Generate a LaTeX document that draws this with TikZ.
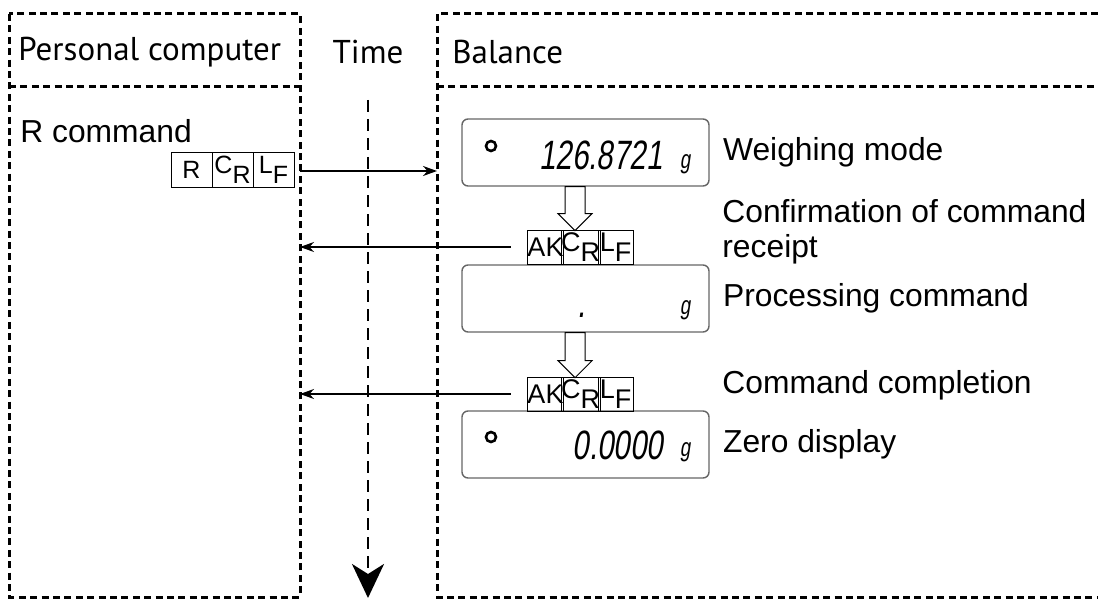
\documentclass[tikz,border=0pt]{standalone}
\usepackage{fontspec}
\setmainfont{Liberation Sans}
\newfontfamily\headfont{PT Sans}
\newfontfamily\segfont[FakeSlant=0.15,FakeStretch=0.72]{Liberation Sans}
\usetikzlibrary{arrows.meta,positioning}

\begin{document}
\begin{tikzpicture}
    [x=0.5pt, y=-0.5pt,
    frame/.style={line width=1.5pt, dash pattern=on 3.5pt off 2.2pt},
    timeline/.style={line width=1.4pt, dash pattern=on 6pt off 3.5pt, -{Stealth[length=17pt, width=16pt, inset=5pt]}},
    msg/.style={line width=0.9pt, -{Stealth[length=7pt, width=5pt]}},
    cell/.style={draw, line width=0.5pt, inner sep=0pt, minimum height=17pt},
    display/.style={draw=black!60, line width=0.7pt, rounded corners=3pt, minimum width=123.5pt, minimum height=33.5pt, inner sep=0pt},
    hollow/.style={draw, line width=0.5pt, fill=white},
    lamp/.style={circle, draw, line width=1.3pt, minimum size=5pt, inner sep=0pt},
    seg/.style={font=\segfont\fontsize{20.5}{20.5}\selectfont, inner sep=0pt},
    unit/.style={font=\segfont\fontsize{13}{13}\selectfont, inner sep=0pt},
    lbl/.style={font=\fontsize{15.9}{17.5}\selectfont, inner sep=0pt, align=left},
    head/.style={font=\headfont\fontsize{16.5}{18}\selectfont, inner sep=0pt}]
        \useasboundingbox (0,0) rectangle (1098,599);

        %% Frames
        \draw[frame] (9,14) rectangle (300,597);
        \draw[frame] (9,87) -- (300,87);
        \draw[frame] (1098,14) -- (437,14) -- (437,597) -- (1098,597);
        \draw[frame] (437,87) -- (1098,87);
        \node[head, anchor=west] (PC) at (18,52) {Personal computer};
        \node[head] (T) at (368,52) {Time};
        \node[head, anchor=west] (B) at (452,52) {Balance};

        %% Time axis
        \coordinate (t0) at (368,100);
        \coordinate (t1) at (368,598);
        \draw[timeline] (t0) to (t1);

        %% Command from the computer
        \node[lbl, anchor=west] (Rc) at (20,131) {R command};
        \node[cell, minimum width=20.5pt, font=\fontsize{12.5}{12.5}\selectfont, node distance=20.5pt] (R1) at (191.5,170) {R};
        \node[cell, minimum width=20.5pt, font=\fontsize{12.5}{12.5}\selectfont, node distance=20.5pt, right of = R1] (R2) {C\raisebox{-5pt}{R}};
        \node[cell, minimum width=20.5pt, font=\fontsize{12.5}{12.5}\selectfont, node distance=20.5pt, right of = R2] (R3) {L\raisebox{-5pt}{F}};
        \coordinate (pc0) at (300,171);
        \coordinate (bal0) at (437,171);
        \draw[msg] (pc0) to (bal0);

        %% Balance displays
        \node[display] (D1) at (585.5,152.5) {};
        \node[lamp] (I1) at (491,146) {};
        \node[seg] (W1) at (601,155) {126.8721};
        \node[unit] (G1) at (685,164) {g};

        \node[display] (D2) at (585.5,298.5) {};
        \node[seg] (P2) at (582,315) {.};
        \node[unit] (G2) at (685,310) {g};

        \node[display] (D3) at (585.5,444.5) {};
        \node[lamp] (I3) at (491,437) {};
        \node[seg] (Z3) at (618,445) {0.0000};
        \node[unit] (G3) at (685,452) {g};

        \draw[hollow] ([xshift=-10.25pt]D1.south) -- ++(0,27) -- ++(-7,0) -- ++(17,17) -- ++(17,-17) -- ++(-7,0) -- ++(0,-27) -- cycle;
        \draw[hollow] ([xshift=-10.25pt]D2.south) -- ++(0,28) -- ++(-7,0) -- ++(17,17) -- ++(17,-17) -- ++(-7,0) -- ++(0,-28) -- cycle;

        %% Replies
        \node[cell, minimum width=17.5pt, font=\fontsize{13.5}{13.5}\selectfont, node distance=17.5pt] (A1) at (545.5,247) {AK};
        \node[cell, minimum width=17.5pt, font=\fontsize{13.5}{13.5}\selectfont, node distance=17.5pt, right of = A1] (A2) {C\raisebox{-5pt}{R}};
        \node[cell, minimum width=17.5pt, font=\fontsize{13.5}{13.5}\selectfont, node distance=17.5pt, right of = A2] (A3) {L\raisebox{-5pt}{F}};
        \coordinate (pc1) at (300,247);
        \draw[msg] ([xshift=-8pt]A1.west) to (pc1);

        \node[cell, minimum width=17.5pt, font=\fontsize{13.5}{13.5}\selectfont, node distance=17.5pt] (A4) at (545.5,394) {AK};
        \node[cell, minimum width=17.5pt, font=\fontsize{13.5}{13.5}\selectfont, node distance=17.5pt, right of = A4] (A5) {C\raisebox{-5pt}{R}};
        \node[cell, minimum width=17.5pt, font=\fontsize{13.5}{13.5}\selectfont, node distance=17.5pt, right of = A5] (A6) {L\raisebox{-5pt}{F}};
        \coordinate (pc2) at (300,394);
        \draw[msg] ([xshift=-8pt]A4.west) to (pc2);

        %% Labels
        \node[lbl, right=6.5pt of D1] (L1) {Weighing mode};
        \node[lbl, anchor=west] (L2) at (722,232) {Confirmation of command\\receipt};
        \node[lbl, right=6.5pt of D2] (L3) {Processing command};
        \node[lbl, anchor=west] (L4) at (722,385) {Command completion};
        \node[lbl, right=6.5pt of D3] (L5) {Zero display};
    \end{tikzpicture}
\end{document}
